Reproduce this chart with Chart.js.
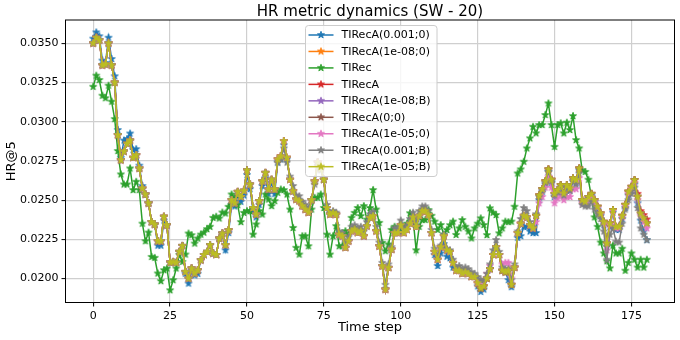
<!DOCTYPE html>
<html>
<head>
<meta charset="utf-8">
<script src="https://cdn.jsdelivr.net/npm/chart.js@4.4.0/dist/chart.umd.min.js"></script>
<style>
  html, body { margin: 0; padding: 0; background: #fff; }
  #wrap { width: 680px; height: 340px; }
</style>
</head>
<body>
<div id="wrap"><canvas id="hrChart" width="680" height="340"></canvas></div>
<script>
// ------------------- DATA -------------------
const steps = Array.from({ length: 181 }, (_, i) => i); // time steps 0..180
const xTicks = [0, 25, 50, 75, 100, 125, 150, 175];
const yTicks = [0.0200, 0.0225, 0.0250, 0.0275, 0.0300, 0.0325, 0.0350];

const seriesNames = [
  "TIRecA(0.001;0)", "TIRecA(1e-08;0)", "TIRec", "TIRecA", "TIRecA(1e-08;B)",
  "TIRecA(0;0)", "TIRecA(1e-05;0)", "TIRecA(0.001;B)", "TIRecA(1e-05;B)"
];
const seriesColors = [
  "#1f77b4", "#ff7f0e", "#2ca02c", "#d62728", "#9467bd",
  "#8c564b", "#e377c2", "#7f7f7f", "#bcbd22"
];

// TIRecA(1e-05;B) - olive, drawn on top
const tirecA_1e05_B = [
  0.03500,0.03536,0.03520,0.03360,0.03366,0.03500,0.03360,0.03250,0.02915,0.02755,
  0.02810,0.02860,0.02880,0.02770,0.02787,0.02702,0.02574,0.02536,0.02480,0.02360,
  0.02344,0.02238,0.02238,0.02394,0.02340,0.02102,0.02106,0.02100,0.02170,0.02208,
  0.02042,0.02000,0.02064,0.02032,0.02053,0.02117,0.02150,0.02170,0.02213,0.02160,
  0.02150,0.02255,0.02287,0.02213,0.02308,0.02500,0.02480,0.02553,0.02520,0.02560,
  0.02690,0.02600,0.02450,0.02408,0.02494,0.02620,0.02674,0.02568,0.02630,0.02568,
  0.02760,0.02780,0.02877,0.02770,0.02630,0.02557,0.02504,0.02494,0.02462,0.02440,
  0.02420,0.02500,0.02620,0.02740,0.02700,0.02630,0.02450,0.02408,0.02419,0.02408,
  0.02280,0.02270,0.02196,0.02238,0.02302,0.02313,0.02291,0.02302,0.02270,0.02334,
  0.02387,0.02398,0.02302,0.02206,0.02079,0.01930,0.02068,0.02185,0.02290,0.02290,
  0.02340,0.02290,0.02310,0.02350,0.02390,0.02330,0.02400,0.02430,0.02430,0.02405,
  0.02290,0.02170,0.02120,0.02200,0.02270,0.02180,0.02170,0.02100,0.02050,0.02050,
  0.02030,0.02040,0.02030,0.02010,0.02010,0.01970,0.01937,0.01950,0.02000,0.02060,
  0.02150,0.02200,0.02150,0.02050,0.02040,0.02050,0.01960,0.02070,0.02290,0.02350,
  0.02400,0.02390,0.02340,0.02320,0.02400,0.02530,0.02570,0.02620,0.02696,0.02630,
  0.02540,0.02565,0.02596,0.02543,0.02596,0.02575,0.02639,0.02628,0.02702,0.02500,
  0.02490,0.02520,0.02540,0.02500,0.02458,0.02415,0.02362,0.02224,0.02352,0.02437,
  0.02330,0.02330,0.02400,0.02470,0.02554,0.02585,0.02628,0.02522,0.02415,0.02384,
  0.02352
];

// TIRecA(0.001;0) - blue
const tirecA_0001_0 = [
  0.03530,0.03570,0.03545,0.03390,0.03375,0.03536,0.03400,0.03290,0.02947,0.02770,
  0.02880,0.02890,0.02925,0.02820,0.02825,0.02720,0.02590,0.02536,0.02480,0.02360,
  0.02344,0.02210,0.02210,0.02370,0.02340,0.02102,0.02106,0.02100,0.02170,0.02208,
  0.02030,0.01968,0.02050,0.02020,0.02030,0.02117,0.02150,0.02170,0.02213,0.02160,
  0.02150,0.02255,0.02287,0.02180,0.02290,0.02470,0.02460,0.02530,0.02490,0.02530,
  0.02660,0.02570,0.02430,0.02390,0.02470,0.02590,0.02640,0.02540,0.02610,0.02540,
  0.02740,0.02760,0.02850,0.02760,0.02630,0.02557,0.02504,0.02494,0.02462,0.02440,
  0.02420,0.02500,0.02620,0.02740,0.02700,0.02630,0.02450,0.02408,0.02419,0.02408,
  0.02280,0.02270,0.02196,0.02238,0.02302,0.02313,0.02291,0.02302,0.02270,0.02334,
  0.02387,0.02398,0.02302,0.02206,0.02079,0.01930,0.02068,0.02185,0.02290,0.02290,
  0.02340,0.02290,0.02310,0.02350,0.02390,0.02330,0.02400,0.02430,0.02430,0.02405,
  0.02290,0.02150,0.02080,0.02160,0.02220,0.02140,0.02130,0.02070,0.02050,0.02050,
  0.02030,0.02040,0.02030,0.02010,0.02010,0.01950,0.01915,0.01930,0.02000,0.02060,
  0.02150,0.02200,0.02150,0.02050,0.02040,0.01990,0.01945,0.02070,0.02260,0.02270,
  0.02330,0.02330,0.02300,0.02290,0.02290,0.02500,0.02550,0.02600,0.02680,0.02610,
  0.02520,0.02550,0.02580,0.02530,0.02580,0.02560,0.02620,0.02610,0.02690,0.02490,
  0.02480,0.02510,0.02530,0.02490,0.02440,0.02400,0.02340,0.02200,0.02330,0.02420,
  0.02310,0.02310,0.02380,0.02450,0.02530,0.02560,0.02600,0.02480,0.02370,0.02300,
  0.02245
];

// TIRec - green
const tirec = [
  0.03223,0.03294,0.03266,0.03166,0.03150,0.03230,0.03128,0.03017,0.02813,0.02664,
  0.02600,0.02600,0.02702,0.02564,0.02617,0.02564,0.02350,0.02238,0.02293,0.02138,
  0.02132,0.02032,0.01983,0.02053,0.02064,0.01925,0.01989,0.02064,0.02150,0.02106,
  0.02153,0.02287,0.02276,0.02223,0.02255,0.02280,0.02293,0.02315,0.02330,0.02387,
  0.02394,0.02383,0.02421,0.02415,0.02457,0.02536,0.02515,0.02468,0.02360,0.02419,
  0.02430,0.02430,0.02280,0.02345,0.02430,0.02408,0.02536,0.02504,0.02462,0.02494,
  0.02547,0.02568,0.02564,0.02536,0.02440,0.02323,0.02196,0.02153,0.02270,0.02270,
  0.02206,0.02440,0.02515,0.02515,0.02536,0.02450,0.02280,0.02153,0.02270,0.02334,
  0.02206,0.02206,0.02302,0.02280,0.02387,0.02419,0.02450,0.02398,0.02462,0.02376,
  0.02450,0.02564,0.02440,0.02355,0.02228,0.02174,0.02217,0.02310,0.02330,0.02300,
  0.02300,0.02330,0.02350,0.02416,0.02384,0.02180,0.02330,0.02373,0.02373,0.02437,
  0.02400,0.02363,0.02310,0.02341,0.02280,0.02310,0.02340,0.02363,0.02278,0.02320,
  0.02373,0.02330,0.02300,0.02256,0.02320,0.02350,0.02384,0.02341,0.02277,0.02448,
  0.02420,0.02405,0.02288,0.02320,0.02363,0.02360,0.02363,0.02458,0.02670,0.02696,
  0.02745,0.02830,0.02894,0.02968,0.02926,0.02979,0.02979,0.03043,0.03117,0.02979,
  0.02840,0.02979,0.02990,0.02926,0.02994,0.02947,0.03036,0.02883,0.02830,0.02690,
  0.02680,0.02630,0.02520,0.02390,0.02330,0.02230,0.02160,0.02110,0.02065,0.02210,
  0.02160,0.02160,0.02190,0.02050,0.02100,0.02160,0.02120,0.02070,0.02120,0.02070,
  0.02120
];

// TIRecA - red (only shows at the very end)
const tirecA = [
  0.03500,0.03536,0.03520,0.03360,0.03366,0.03500,0.03360,0.03250,0.02915,0.02755,
  0.02810,0.02860,0.02880,0.02770,0.02787,0.02702,0.02574,0.02536,0.02480,0.02360,
  0.02344,0.02238,0.02238,0.02394,0.02340,0.02102,0.02106,0.02100,0.02170,0.02208,
  0.02042,0.02000,0.02064,0.02032,0.02053,0.02117,0.02150,0.02170,0.02213,0.02160,
  0.02150,0.02255,0.02287,0.02213,0.02308,0.02500,0.02480,0.02553,0.02520,0.02560,
  0.02690,0.02600,0.02450,0.02408,0.02494,0.02620,0.02674,0.02568,0.02630,0.02568,
  0.02760,0.02780,0.02877,0.02770,0.02630,0.02557,0.02504,0.02494,0.02462,0.02440,
  0.02420,0.02500,0.02620,0.02740,0.02700,0.02630,0.02450,0.02408,0.02419,0.02408,
  0.02280,0.02270,0.02196,0.02238,0.02302,0.02313,0.02291,0.02302,0.02270,0.02334,
  0.02387,0.02398,0.02302,0.02206,0.02079,0.01930,0.02068,0.02185,0.02290,0.02290,
  0.02340,0.02290,0.02310,0.02350,0.02390,0.02330,0.02400,0.02430,0.02430,0.02405,
  0.02290,0.02170,0.02120,0.02200,0.02270,0.02180,0.02170,0.02100,0.02050,0.02050,
  0.02030,0.02040,0.02030,0.02010,0.02010,0.01970,0.01937,0.01950,0.02000,0.02060,
  0.02150,0.02200,0.02150,0.02050,0.02040,0.02050,0.01960,0.02070,0.02290,0.02350,
  0.02400,0.02390,0.02340,0.02320,0.02400,0.02530,0.02570,0.02620,0.02696,0.02630,
  0.02540,0.02565,0.02596,0.02543,0.02596,0.02575,0.02639,0.02628,0.02702,0.02500,
  0.02490,0.02520,0.02540,0.02500,0.02458,0.02415,0.02362,0.02224,0.02352,0.02437,
  0.02330,0.02330,0.02400,0.02470,0.02554,0.02585,0.02628,0.02540,0.02430,0.02405,
  0.02377
];

// TIRecA(1e-05;0) - pink
const tirecA_1e05_0 = [
  0.03500,0.03536,0.03520,0.03360,0.03366,0.03500,0.03360,0.03250,0.02915,0.02755,
  0.02810,0.02860,0.02880,0.02770,0.02787,0.02702,0.02574,0.02536,0.02480,0.02360,
  0.02344,0.02238,0.02238,0.02394,0.02340,0.02102,0.02106,0.02100,0.02170,0.02208,
  0.02042,0.02000,0.02064,0.02032,0.02053,0.02117,0.02150,0.02170,0.02213,0.02160,
  0.02150,0.02255,0.02287,0.02213,0.02308,0.02500,0.02480,0.02553,0.02520,0.02560,
  0.02690,0.02600,0.02450,0.02408,0.02494,0.02620,0.02674,0.02568,0.02630,0.02568,
  0.02760,0.02780,0.02877,0.02770,0.02630,0.02557,0.02504,0.02494,0.02462,0.02440,
  0.02420,0.02500,0.02620,0.02740,0.02700,0.02630,0.02450,0.02408,0.02419,0.02408,
  0.02280,0.02270,0.02196,0.02238,0.02302,0.02313,0.02291,0.02302,0.02270,0.02334,
  0.02387,0.02398,0.02302,0.02206,0.02079,0.01930,0.02068,0.02185,0.02290,0.02290,
  0.02340,0.02290,0.02310,0.02350,0.02390,0.02330,0.02400,0.02430,0.02430,0.02405,
  0.02290,0.02170,0.02120,0.02200,0.02270,0.02180,0.02170,0.02100,0.02050,0.02050,
  0.02030,0.02040,0.02030,0.02010,0.02010,0.01970,0.01980,0.01990,0.02030,0.02080,
  0.02150,0.02200,0.02150,0.02090,0.02100,0.02100,0.02000,0.02070,0.02290,0.02350,
  0.02400,0.02390,0.02340,0.02320,0.02360,0.02480,0.02520,0.02580,0.02650,0.02580,
  0.02480,0.02510,0.02530,0.02500,0.02520,0.02520,0.02570,0.02570,0.02640,0.02480,
  0.02480,0.02500,0.02520,0.02490,0.02450,0.02410,0.02350,0.02180,0.02340,0.02430,
  0.02320,0.02320,0.02390,0.02460,0.02540,0.02570,0.02610,0.02500,0.02400,0.02360,
  0.02320
];

// TIRecA(0.001;B) - gray
const tirecA_0001_B = [
  0.03500,0.03536,0.03520,0.03360,0.03366,0.03500,0.03360,0.03250,0.02915,0.02755,
  0.02810,0.02860,0.02880,0.02770,0.02787,0.02702,0.02574,0.02536,0.02480,0.02360,
  0.02344,0.02238,0.02238,0.02394,0.02340,0.02102,0.02106,0.02100,0.02170,0.02208,
  0.02042,0.02000,0.02064,0.02032,0.02053,0.02117,0.02150,0.02170,0.02213,0.02160,
  0.02150,0.02255,0.02287,0.02213,0.02308,0.02500,0.02480,0.02553,0.02520,0.02560,
  0.02690,0.02600,0.02450,0.02408,0.02494,0.02620,0.02674,0.02568,0.02630,0.02568,
  0.02740,0.02760,0.02830,0.02740,0.02650,0.02590,0.02530,0.02525,0.02490,0.02470,
  0.02450,0.02500,0.02600,0.02720,0.02690,0.02630,0.02470,0.02420,0.02430,0.02420,
  0.02300,0.02290,0.02230,0.02265,0.02330,0.02340,0.02320,0.02330,0.02300,0.02360,
  0.02410,0.02425,0.02330,0.02230,0.02100,0.01960,0.02090,0.02200,0.02320,0.02320,
  0.02370,0.02320,0.02340,0.02380,0.02420,0.02360,0.02430,0.02460,0.02460,0.02430,
  0.02310,0.02190,0.02140,0.02210,0.02280,0.02190,0.02180,0.02120,0.02070,0.02080,
  0.02060,0.02070,0.02060,0.02040,0.02030,0.02010,0.01990,0.01990,0.02030,0.02090,
  0.02180,0.02246,0.02170,0.02070,0.02060,0.02060,0.01990,0.02090,0.02300,0.02380,
  0.02450,0.02430,0.02360,0.02330,0.02410,0.02520,0.02560,0.02610,0.02680,0.02620,
  0.02530,0.02550,0.02580,0.02530,0.02580,0.02560,0.02620,0.02600,0.02670,0.02470,
  0.02460,0.02460,0.02490,0.02440,0.02410,0.02380,0.02300,0.02120,0.02280,0.02320,
  0.02235,0.02230,0.02350,0.02440,0.02500,0.02540,0.02580,0.02450,0.02320,0.02280,
  0.02245
];

// these three sit exactly under the olive line in the picture
const tirecA_1e08_0 = tirecA_1e05_B.slice();
const tirecA_1e08_B = tirecA_1e05_B.slice();
const tirecA_0_0 = tirecA_1e05_B.slice();

const seriesValues = [
  tirecA_0001_0, tirecA_1e08_0, tirec, tirecA, tirecA_1e08_B,
  tirecA_0_0, tirecA_1e05_0, tirecA_0001_B, tirecA_1e05_B
];

// ------------------- HELPERS -------------------
const FONT = "'DejaVu Sans', 'Liberation Sans', sans-serif";

// matplotlib-like filled five point star marker
function makeStar(color) {
  const c = document.createElement("canvas");
  c.width = 12; c.height = 12;
  const g = c.getContext("2d");
  const R = 3.7, r = 1.45;
  g.beginPath();
  for (let k = 0; k < 10; k++) {
    const rad = k % 2 === 0 ? R : r;
    const a = -Math.PI / 2 + k * Math.PI / 5;
    const px = 6 + rad * Math.cos(a), py = 6 + rad * Math.sin(a);
    k === 0 ? g.moveTo(px, py) : g.lineTo(px, py);
  }
  g.closePath();
  g.fillStyle = color; g.fill();
  g.strokeStyle = color; g.lineWidth = 0.9; g.lineJoin = "miter"; g.stroke();
  return c;
}
const stars = seriesColors.map(makeStar);

// frame around the axes (matplotlib spines)
const frame = {
  id: "frame",
  afterDatasetsDraw(chart) {
    const { ctx, chartArea: a } = chart;
    ctx.save();
    ctx.strokeStyle = "#000";
    ctx.lineWidth = 1;
    ctx.strokeRect(a.left, a.top, a.right - a.left, a.bottom - a.top);
    ctx.restore();
  }
};

// title + axis labels + legend box in matplotlib spots
const decor = {
  id: "decor",
  afterDraw(chart) {
    const { ctx, chartArea: a } = chart;
    ctx.save();
    ctx.fillStyle = "#000";
    ctx.textAlign = "center";
    ctx.textBaseline = "alphabetic";
    ctx.font = "15px " + FONT;
    ctx.fillText("HR metric dynamics (SW - 20)", (a.left + a.right) / 2, 16);
    ctx.font = "13px " + FONT;
    ctx.fillText("Time step", (a.left + a.right) / 2, 331);
    ctx.translate(15, (a.top + a.bottom) / 2);
    ctx.rotate(-Math.PI / 2);
    ctx.fillText("HR@5", 0, 0);
    ctx.restore();

    // legend
    const x0 = 305.5, y0 = 25.5, w = 131.5, h = 151, rr = 3;
    ctx.save();
    ctx.beginPath();
    ctx.moveTo(x0 + rr, y0);
    ctx.lineTo(x0 + w - rr, y0); ctx.arcTo(x0 + w, y0, x0 + w, y0 + rr, rr);
    ctx.lineTo(x0 + w, y0 + h - rr); ctx.arcTo(x0 + w, y0 + h, x0 + w - rr, y0 + h, rr);
    ctx.lineTo(x0 + rr, y0 + h); ctx.arcTo(x0, y0 + h, x0, y0 + h - rr, rr);
    ctx.lineTo(x0, y0 + rr); ctx.arcTo(x0, y0, x0 + rr, y0, rr);
    ctx.closePath();
    ctx.fillStyle = "rgba(255,255,255,0.8)";
    ctx.fill();
    ctx.strokeStyle = "#cccccc";
    ctx.lineWidth = 1;
    ctx.stroke();
    ctx.font = "11px " + FONT;
    ctx.textAlign = "left";
    ctx.textBaseline = "middle";
    seriesNames.forEach((name, i) => {
      const cy = 35 + i * 16.46;
      ctx.strokeStyle = seriesColors[i];
      ctx.lineWidth = 1.5;
      ctx.beginPath(); ctx.moveTo(308.5, cy); ctx.lineTo(333.5, cy); ctx.stroke();
      ctx.drawImage(stars[i], 321 - 6, cy - 6);
      ctx.fillStyle = "#000";
      ctx.fillText(name, 341.5, cy + 0.5);
    });
    ctx.restore();
  }
};

// ------------------- CHART -------------------
const datasets = seriesNames.map((name, i) => ({
  label: name,
  data: seriesValues[i].map((v, j) => ({ x: steps[j], y: v })),
  borderColor: seriesColors[i],
  backgroundColor: seriesColors[i],
  borderWidth: 1.5,
  tension: 0,
  fill: false,
  pointStyle: stars[i],
  pointRadius: 4,
  order: seriesNames.length - 1 - i // later series on top, like matplotlib
}));

const ctx = document.getElementById("hrChart").getContext("2d");
new Chart(ctx, {
  type: "line",
  data: { datasets },
  options: {
    responsive: false,
    animation: false,
    devicePixelRatio: 1,
    layout: { padding: { top: 20, right: 3, left: 0, bottom: 0 } },
    plugins: {
      legend: { display: false },
      title: { display: false },
      tooltip: { enabled: false }
    },
    scales: {
      x: {
        type: "linear",
        min: -9,
        max: 189,
        afterBuildTicks: s => { s.ticks = xTicks.map(v => ({ value: v })); },
        afterFit: s => { s.height = 37.5; },
        border: { display: false },
        grid: { color: "#cfcfcf", lineWidth: 1.2, tickColor: "#000", tickLength: 4, tickWidth: 1 },
        ticks: {
          color: "#000", padding: 3, maxRotation: 0, autoSkip: false,
          font: { family: FONT, size: 11 },
          callback: v => String(v)
        }
      },
      y: {
        type: "linear",
        min: 0.01847,
        max: 0.03649,
        afterBuildTicks: s => { s.ticks = yTicks.map(v => ({ value: v })); },
        afterFit: s => { s.width = 65.5; },
        border: { display: false },
        grid: { color: "#cfcfcf", lineWidth: 1.2, tickColor: "#000", tickLength: 4, tickWidth: 1 },
        ticks: {
          color: "#000", padding: 3, autoSkip: false,
          font: { family: FONT, size: 11 },
          callback: v => v.toFixed(4)
        }
      }
    }
  },
  plugins: [frame, decor]
});
</script>
</body>
</html>
